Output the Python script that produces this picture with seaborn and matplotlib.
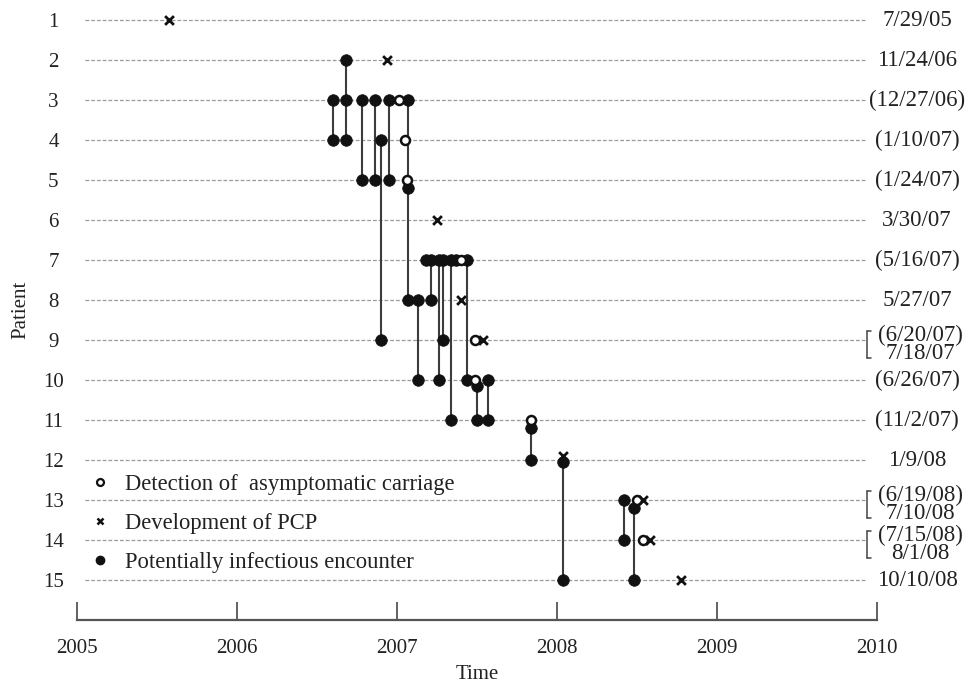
"""Timeline of PCP cases: encounters, carriage detection and PCP onset per patient."""

import pandas as pd
import matplotlib
matplotlib.use('Agg')
import matplotlib.pyplot as plt
from matplotlib.lines import Line2D
import seaborn as sns

# Potentially infectious encounters: one vertical link between two patients
enc_time = [2006.60, 2006.68, 2006.78, 2006.86, 2006.95, 2006.90, 2007.07, 2007.13,
            2007.21, 2007.26, 2007.29, 2007.34, 2007.44, 2007.50, 2007.57, 2007.84,
            2008.04, 2008.42, 2008.48]
enc_from = [3, 2, 3, 3, 3, 4, 3, 8, 7, 7, 7, 7, 7, 10.15, 10, 11.2, 12.05, 13, 13.2]
enc_to = [4, 4, 5, 5, 5, 9, 8, 10, 8, 10, 9, 11, 10, 11, 11, 12, 15, 14, 15]

# encounter dots lying on a link without ending it
extra_time = [2006.68, 2007.07, 2007.18, 2007.37]
extra_patient = [3, 5.2, 7, 7]

# Detection of asymptomatic carriage
det_time = [2007.01, 2007.05, 2007.06, 2007.40, 2007.49, 2007.49, 2007.84, 2008.50, 2008.54]
det_patient = [3, 4, 5, 7, 9, 10, 11, 13, 14]

# Development of PCP
pcp_time = [2005.575, 2006.94, 2007.25, 2007.40, 2007.54, 2008.04, 2008.54, 2008.58, 2008.775]
pcp_patient = [1, 2, 6, 8, 9, 11.9, 13, 14, 15]

patients = list(range(1, 16))
right_labels = ['7/29/05', '11/24/06', '(12/27/06)', '(1/10/07)', '(1/24/07)', '3/30/07',
                '(5/16/07)', '5/27/07', '(6/20/07)\n7/18/07', '(6/26/07)', '(11/2/07)',
                '1/9/08', '(6/19/08)\n7/10/08', '(7/15/08)\n8/1/08', '10/10/08']
year_ticks = [2005, 2006, 2007, 2008, 2009, 2010]

LEG_DET = 'Detection of  asymptomatic carriage'
LEG_PCP = 'Development of PCP'
LEG_ENC = 'Potentially infectious encounter'


def main():
    sns.set_theme(style='white')
    plt.rcParams['font.family'] = ['Liberation Serif', 'DejaVu Serif']
    plt.rcParams['font.size'] = 15
    ink = '#222222'

    enc_df = pd.DataFrame({
        'time': enc_time + enc_time + extra_time,
        'patient': enc_from + enc_to + extra_patient,
    })
    det_df = pd.DataFrame({'time': det_time, 'patient': det_patient})
    pcp_df = pd.DataFrame({'time': pcp_time, 'patient': pcp_patient})

    fig = plt.figure(figsize=(9.7, 6.86), dpi=100)
    ax = fig.add_axes([77 / 970, 66 / 686, 800 / 970, 620 / 686])

    # fines lignes pointillées par patient
    for p in patients:
        ax.axhline(p, xmin=0.01, xmax=0.985, color='#9a9a9a', lw=0.9,
                   ls=(0, (3, 1.6)), zorder=1)

    ax.vlines(enc_time, enc_from, enc_to, color='#3c3c3c', lw=1.5, zorder=2)

    sns.scatterplot(data=enc_df, x='time', y='patient', ax=ax, marker='o', s=70,
                    color='#111111', edgecolor='#111111', linewidth=0.5, zorder=3)
    sns.scatterplot(data=det_df, x='time', y='patient', ax=ax, marker='o', s=42,
                    facecolor='white', edgecolor='#111111', linewidth=1.8, zorder=4)
    sns.scatterplot(data=pcp_df, x='time', y='patient', ax=ax, marker='x', s=40,
                    color='#111111', linewidth=2.0, zorder=4)

    ax.set_xlim(2005, 2010)
    ax.set_ylim(16, 0.5)
    ax.set_yticks(patients)
    ax.set_yticklabels([str(p) for p in patients], ha='center')
    ax.set_xticks(year_ticks)
    ax.set_xticklabels([str(y) for y in year_ticks])
    ax.tick_params(axis='y', length=0, pad=17, labelsize=15, labelcolor=ink)
    ax.tick_params(axis='x', direction='in', length=13, width=1.3, color='#555555',
                   bottom=True, pad=14, labelsize=15, labelcolor=ink)

    for side in ['left', 'right', 'top']:
        ax.spines[side].set_visible(False)
    ax.spines['bottom'].set_color('#555555')
    ax.spines['bottom'].set_linewidth(1.6)

    ax.set_xlabel('Time', fontsize=15, color=ink)
    ax.set_ylabel('Patient', fontsize=15, color=ink)
    ax.xaxis.set_label_coords(0.5, -0.072)
    ax.yaxis.set_label_coords(-0.058, 0.5)

    # dates à droite, avec accolade pour les lignes doubles
    for p, lab in zip(patients, right_labels):
        if '\n' in lab:
            ax.text(2010.27, p + 0.12, lab, ha='center', va='center', fontsize=16.5,
                    color=ink, linespacing=0.8, clip_on=False)
            bx = 2009.935
            ax.plot([bx, bx], [p - 0.22, p + 0.45], color='#444444', lw=1.1, clip_on=False)
            ax.plot([bx, bx + 0.03], [p - 0.22, p - 0.22], color='#444444', lw=1.1, clip_on=False)
            ax.plot([bx, bx + 0.03], [p + 0.45, p + 0.45], color='#444444', lw=1.1, clip_on=False)
        else:
            ax.text(2010.25, p, lab, ha='center', va='center', fontsize=16.5,
                    color=ink, clip_on=False)

    handles = [
        Line2D([], [], ls='none', marker='o', ms=5, mfc='white', mec='#111111', mew=1.6),
        Line2D([], [], ls='none', marker='x', ms=5, color='#111111', mew=1.8),
        Line2D([], [], ls='none', marker='o', ms=6, color='#111111'),
    ]
    ax.legend(handles, [LEG_DET, LEG_PCP, LEG_ENC], loc='upper left',
              bbox_to_anchor=(0.02, 1 - 474 / 620), frameon=False, fontsize=16.3,
              handlelength=0.6, handletextpad=0.8, labelspacing=0.8,
              borderpad=0, borderaxespad=0, labelcolor=ink)

    fig.savefig('out.png', dpi=100)


if __name__ == '__main__':
    main()
